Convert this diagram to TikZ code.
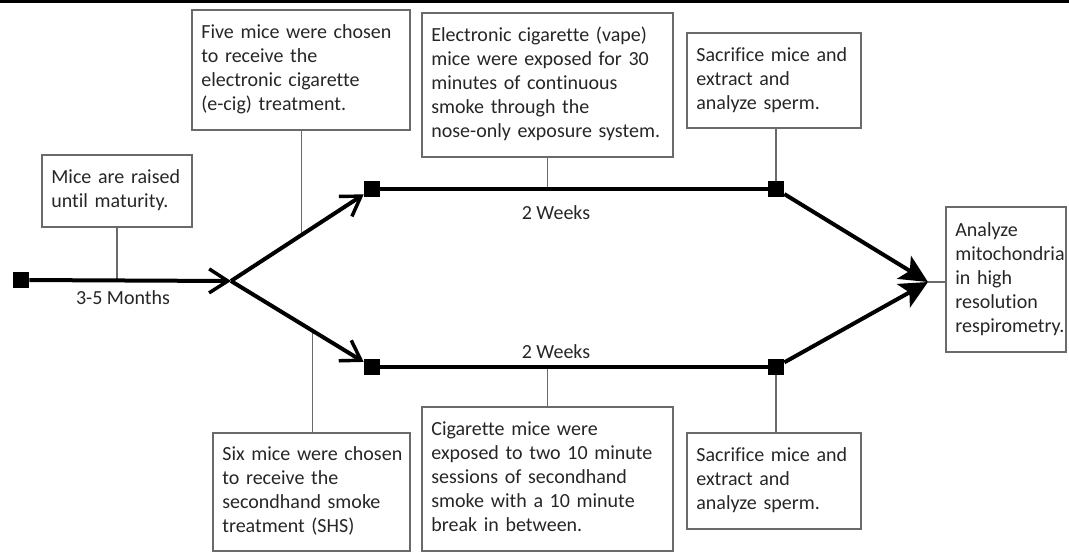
\documentclass[tikz,border=0pt]{standalone}
\usepackage{fontspec}
\setmainfont{Carlito}[Ligatures={NoCommon}]
\usetikzlibrary{arrows.meta,calc}
\definecolor{boxline}{HTML}{6A6A6A}
\definecolor{txt}{HTML}{262626}
\begin{document}
\begin{tikzpicture}[x=0.75pt,y=-0.75pt,
  box/.style={draw=boxline, line width=0.9pt, text=txt,
    font=\fontsize{15}{18}\selectfont, align=left, anchor=north west,
    inner xsep=7pt, inner ysep=0pt, outer sep=0pt},
  lbl/.style={text=txt, font=\fontsize{15}{18}\selectfont, inner sep=0pt},
  sq/.style={fill=black, minimum size=12.5pt, inner sep=0pt, outer sep=0pt},
  main/.style={line width=3pt, black},
  thin/.style={draw=boxline, line width=0.8pt},
  barb/.style={-{Straight Barb[length=14pt, width=18pt, line width=2.6pt]}},
  bigtip/.style={-{Stealth[length=21pt, width=20pt, inset=5pt]}}
]
\useasboundingbox (0,0) rectangle (1069,553);
\draw[line width=2.25pt] (0,1.5) -- (1069,1.5);

% boxes
\node[box, text width=98.5pt, minimum height=54pt] (raised) at (42,155)
  {\begin{tabular}{@{}l@{}}Mice are raised\\until maturity.\end{tabular}};
\node[box, text width=149.5pt, minimum height=90pt] (five) at (192,10)
  {\begin{tabular}{@{}l@{}}Five mice were chosen\\to receive the\\electronic cigarette\\(e-cig) treatment.\end{tabular}};
\node[box, text width=174.25pt, minimum height=108pt] (elec) at (422,13)
  {\begin{tabular}{@{}l@{}}Electronic cigarette (vape)\\mice were exposed for 30\\minutes of continuous\\smoke through the\\nose-only exposure system.\end{tabular}};
\node[box, text width=116.5pt, minimum height=71.25pt] (sacu) at (687,33)
  {\begin{tabular}{@{}l@{}}Sacrifice mice and\\extract and\\analyze sperm.\end{tabular}};
\node[box, text width=76pt, minimum height=108.75pt] (ana) at (946,207)
  {\begin{tabular}{@{}l@{}}Analyze\\mitochondria\\in high\\resolution\\respirometry.\end{tabular}};
\node[box, text width=133.75pt, minimum height=88.5pt] (six) at (213,433)
  {\begin{tabular}{@{}l@{}}Six mice were chosen\\to receive the\\secondhand smoke\\treatment (SHS)\end{tabular}};
\node[box, text width=174.25pt, minimum height=108pt] (cig) at (422,407)
  {\begin{tabular}{@{}l@{}}Cigarette mice were\\exposed to two 10 minute\\sessions of secondhand\\smoke with a 10 minute\\break in between.\end{tabular}};
\node[box, text width=116.5pt, minimum height=72pt] (sacl) at (687,433)
  {\begin{tabular}{@{}l@{}}Sacrifice mice and\\extract and\\analyze sperm.\end{tabular}};

% squares and points
\node[sq] (s0) at (21,280) {};
\node[sq] (su1) at (372,189) {};
\node[sq] (sl1) at (372,367) {};
\node[sq] (su2) at (776,189) {};
\node[sq] (sl2) at (776,367) {};
\coordinate (br) at (231,281);
\coordinate (tip) at (928,282);
\coordinate (cu) at ($(br)!0.5!(su1)$);
\coordinate (cl) at ($(br)!0.58!(sl1)$);

% labels
\node[lbl] (months) at (123,298) {3-5 Months};
\node[lbl] (wku) at (556,213) {2 Weeks};
\node[lbl] (wkl) at (556,352) {2 Weeks};

% thin connectors
\draw[thin] (raised.south) -- (raised.south |- s0);
\draw[thin] (cu |- five.south) -- (cu);
\draw[thin] (cl) -- (cl |- six.north);
\draw[thin] (elec.south) -- (elec.south |- su1);
\draw[thin] (cig.north) -- (cig.north |- sl1);
\draw[thin] (su2) -- (su2 |- sacu.south);
\draw[thin] (sl2) -- (sl2 |- sacl.north);
\draw[thin] (tip) -- (tip -| ana.west);

% main lines
\draw[main, barb] (s0) -- (br);
\draw[main, barb] (br) -- (su1);
\draw[main, barb] (br) -- (sl1);
\draw[main] (su1) -- (su2);
\draw[main] (sl1) -- (sl2);
\draw[main, bigtip] (su2) -- (tip);
\draw[main, bigtip] (sl2) -- (tip);
\end{tikzpicture}
\end{document}
